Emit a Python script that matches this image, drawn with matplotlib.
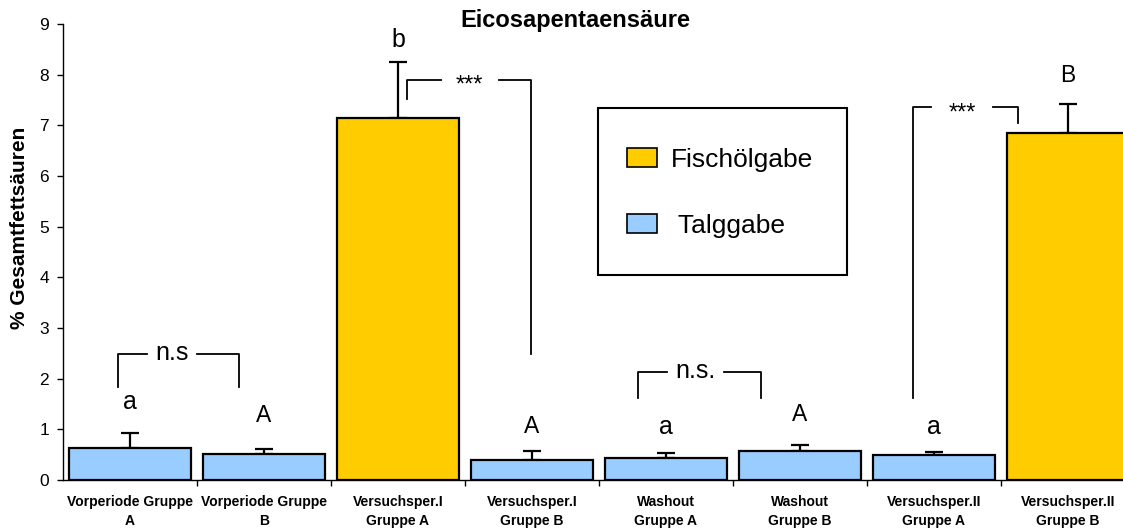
import matplotlib
matplotlib.use('Agg')
import matplotlib.pyplot as plt
from matplotlib.patches import Patch, Rectangle
from matplotlib.ticker import FixedLocator

plt.rcParams['font.family'] = ['Liberation Sans', 'DejaVu Sans']

# EPA share per group (% of total fatty acids), upper error only
groups = ['Vorperiode Gruppe\nA', 'Vorperiode Gruppe\nB', 'Versuchsper.I\nGruppe A',
          'Versuchsper.I\nGruppe B', 'Washout\nGruppe A', 'Washout\nGruppe B',
          'Versuchsper.II\nGruppe A', 'Versuchsper.II\nGruppe B']
values = [0.64, 0.51, 7.15, 0.40, 0.44, 0.57, 0.49, 6.85]
errors = [0.28, 0.10, 1.10, 0.18, 0.09, 0.13, 0.07, 0.58]
fish_oil = [False, False, True, False, False, False, False, True]

# significance letters above each bar
letters = ['a', 'A', 'b', 'A', 'a', 'A', 'a', 'B']
letter_y = [1.53, 1.28, 8.68, 1.05, 1.05, 1.30, 1.05, 7.98]

# brackets: x left, x right, y top, y end left, y end right, text, text gap
brackets = [
    (-0.09, 0.81, 2.48, 1.84, 1.84, 'n.s', (0.13, 0.50)),
    (3.79, 4.71, 2.13, 1.61, 1.61, 'n.s.', (4.01, 4.43)),
    (2.07, 2.99, 7.90, 7.51, 2.48, '***', (2.32, 2.75)),
    (5.84, 6.63, 7.36, 1.62, 7.05, '***', (5.98, 6.44)),
]

GOLD = '#FFCC00'
BLUE = '#99CCFF'
W, H = 1123, 528

fig = plt.figure(figsize=(W / 100, H / 100), dpi=100)
ax = fig.add_axes([63 / W, 48 / H, 1072 / W, 456 / H])

x = list(range(len(values)))
colors = [GOLD if f else BLUE for f in fish_oil]
ax.errorbar(x, values, yerr=[[0] * len(values), errors], fmt='none',
            ecolor='black', elinewidth=1.6, capsize=6.5, capthick=1.6, zorder=2)
ax.bar(x, values, width=0.91, color=colors, edgecolor='black', linewidth=1.6, zorder=3)

for xi, lab, ly in zip(x, letters, letter_y):
    size = 18 if lab.islower() else 16.5
    ax.text(xi, ly, lab, ha='center', va='center', fontsize=size)

for xl, xr, yt, yl, yr, lab, (g0, g1) in brackets:
    ax.plot([xl, xl, g0], [yl, yt, yt], color='black', lw=1.3)
    ax.plot([g1, xr, xr], [yt, yt, yr], color='black', lw=1.3)
    if lab == '***':
        ax.text((g0 + g1) / 2, yt - 0.12, lab, ha='center', va='center', fontsize=17)
    else:
        ax.text((g0 + g1) / 2, yt + 0.02, lab, ha='center', va='center', fontsize=18)

ax.set_xlim(-0.5, 7.5)
ax.set_ylim(0, 9)
ax.set_yticks(range(10))
ax.tick_params(axis='y', labelsize=12.5, length=4, width=1, pad=6)

ax.set_xticks(x)
ax.set_xticklabels(groups, fontsize=10, fontweight='bold', linespacing=1.42)
ax.tick_params(axis='x', which='major', length=0, pad=11)
ax.xaxis.set_minor_locator(FixedLocator([i + 0.5 for i in range(7)]))
ax.tick_params(axis='x', which='minor', length=4, width=1)

for side in ['top', 'right']:
    ax.spines[side].set_visible(False)
for side in ['left', 'bottom']:
    ax.spines[side].set_linewidth(1)

# legend box drawn separately so its padding can be set freely
box = Rectangle((598 / W, 1 - 275 / H), 249 / W, 167 / H, transform=fig.transFigure,
                facecolor='white', edgecolor='black', linewidth=1.5, clip_on=False, zorder=4)
ax.add_patch(box)
handles = [Patch(facecolor=GOLD, edgecolor='black', linewidth=1.2),
           Patch(facecolor=BLUE, edgecolor='black', linewidth=1.2)]
leg = ax.legend(handles, ['Fischölgabe', ' Talggabe'], loc='upper left',
                bbox_to_anchor=(627 / W, 1 - 148 / H), bbox_transform=fig.transFigure,
                fontsize=19, frameon=False, borderpad=0,
                labelspacing=1.58, handlelength=1.15, handleheight=0.72,
                handletextpad=0.5, borderaxespad=0)
leg.set_zorder(5)

fig.text(575 / W, 1 - 20 / H, 'Eicosapentaensäure', ha='center', va='center',
         fontsize=17, fontweight='bold')
fig.text(20 / W, 1 - 228 / H, '% Gesamtfettsäuren', ha='center', va='center',
         rotation=90, fontsize=15, fontweight='bold')

fig.savefig('out.png', dpi=100)
